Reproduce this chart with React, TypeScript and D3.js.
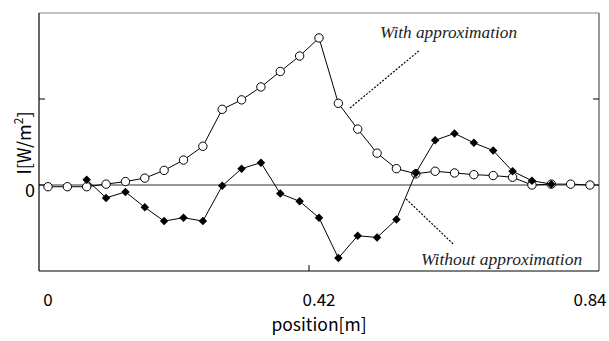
import React from "react";
import * as d3 from "d3";

// Sample positions along the line [m]
const positions: number[] = d3.range(29).map((i) => +(i * 0.03).toFixed(2));

// Intensity computed with the approximation (one value per position)
const withApprox: number[] = [
  -0.02, -0.02, -0.02, 0.01, 0.04, 0.08, 0.17, 0.29, 0.45, 0.88, 0.99, 1.14, 1.32, 1.5, 1.71,
  0.95, 0.65, 0.37, 0.19, 0.13, 0.16, 0.14, 0.12, 0.11, 0.09, 0.0, 0.01, 0.01, 0.0,
];

// Intensity computed without the approximation (positions index 2..26)
const withoutStart = 2;
const withoutApprox: number[] = [
  0.06, -0.15, -0.08, -0.26, -0.42, -0.38, -0.42, -0.01, 0.19, 0.26, -0.1, -0.19, -0.38,
  -0.85, -0.59, -0.61, -0.4, 0.14, 0.52, 0.6, 0.49, 0.4, 0.16, 0.05, 0.01,
];

const xTicks: number[] = [0, 0.42, 0.84];
const xTickLabels: string[] = ["0", "0.42", "0.84"];
const yTicks: number[] = [0, 1];

const W = 609;
const H = 341;
const frame = { left: 39, right: 599, top: 13, bottom: 271 };

const x = d3.scaleLinear().domain([0, 0.84]).range([48, 590]);
const y = d3.scaleLinear().domain([-1, 2]).range([frame.bottom, frame.top]);

const line = d3
  .line<[number, number]>()
  .x((d) => x(d[0]))
  .y((d) => y(d[1]));

const seriesA: [number, number][] = withApprox.map((v, i) => [positions[i], v]);
const seriesB: [number, number][] = withoutApprox.map((v, i) => [positions[i + withoutStart], v]);

const diamond = d3.symbol().type(d3.symbolDiamond2).size(46)();

const labelFont = "'Noto Sans CJK JP', 'Noto Sans', sans-serif";
const noteFont = "'Liberation Serif', 'DejaVu Serif', serif";

export default function App() {
  return (
    <svg
      width={W}
      height={H}
      style={{ position: "absolute", left: 0, top: 0, background: "#fff" }}
    >
      {/* zero line */}
      <line x1={frame.left} x2={frame.right} y1={y(0)} y2={y(0)} stroke="#777" strokeWidth={1.5} />

      {/* frame */}
      <line x1={frame.left} x2={frame.right} y1={frame.top} y2={frame.top} stroke="#888" strokeWidth={1.2} />
      <line x1={frame.right} x2={frame.right} y1={frame.top} y2={frame.bottom} stroke="#555" strokeWidth={1.2} />
      <line x1={frame.left} x2={frame.right} y1={frame.bottom} y2={frame.bottom} stroke="#000" strokeWidth={1.2} />
      <line x1={frame.left} x2={frame.left} y1={frame.top} y2={frame.bottom} stroke="#000" strokeWidth={1.2} />

      {/* inward ticks */}
      {yTicks.map((t) => (
        <g key={"yt" + t}>
          <line x1={frame.left} x2={frame.left + 6} y1={y(t)} y2={y(t)} stroke="#000" />
          <line x1={frame.right - 6} x2={frame.right} y1={y(t)} y2={y(t)} stroke="#000" />
        </g>
      ))}
      <line x1={x(0.42) - 10} x2={x(0.42) - 10} y1={frame.bottom - 6} y2={frame.bottom} stroke="#000" />

      {/* series with approximation */}
      <path d={line(seriesA) || ""} fill="none" stroke="#000" strokeWidth={1} />
      {seriesA.map((d, i) => (
        <circle key={"a" + i} cx={x(d[0])} cy={y(d[1])} r={4.2} fill="#fff" stroke="#000" strokeWidth={1} />
      ))}

      {/* series without approximation */}
      <path d={line(seriesB) || ""} fill="none" stroke="#000" strokeWidth={1} />
      {seriesB.map((d, i) => (
        <path key={"b" + i} d={diamond || ""} transform={`translate(${x(d[0])},${y(d[1])})`} fill="#000" />
      ))}

      {/* annotations */}
      <line x1={x(0.468)} y1={y(0.895)} x2={x(0.5765)} y2={y(1.57)} stroke="#000" strokeWidth={1.2} strokeDasharray="2,1.5" />
      <text x={x(0.5145)} y={y(1.71)} fontFamily={noteFont} fontStyle="italic" fontSize={17.3} fill="#222">
        With approximation
      </text>
      <line x1={x(0.555)} y1={y(-0.163)} x2={x(0.628)} y2={y(-0.686)} stroke="#000" strokeWidth={1.2} strokeDasharray="2,1.5" />
      <text x={x(0.578)} y={y(-0.93)} fontFamily={noteFont} fontStyle="italic" fontSize={17.5} fill="#222">
        Without approximation
      </text>

      {/* axis labels */}
      {xTicks.map((t, i) => (
        <text key={"xl" + t} x={x(t)} y={306} textAnchor="middle" fontFamily={labelFont} fontSize={17} fill="#000">
          {xTickLabels[i]}
        </text>
      ))}
      <text x={30} y={y(0) + 12} textAnchor="middle" fontFamily={labelFont} fontSize={18} fill="#000">
        0
      </text>
      <text x={x(0.42)} y={331} textAnchor="middle" fontFamily={labelFont} fontSize={17.5} fill="#000">
        position[m]
      </text>
      <text
        transform={`translate(31,${143}) rotate(-90)`}
        textAnchor="middle"
        fontFamily={labelFont}
        fontSize={18}
        fill="#000"
      >
        I[W/m<tspan dy={-8} fontSize={12}>2</tspan>
        <tspan dy={8}>]</tspan>
      </text>
    </svg>
  );
}
